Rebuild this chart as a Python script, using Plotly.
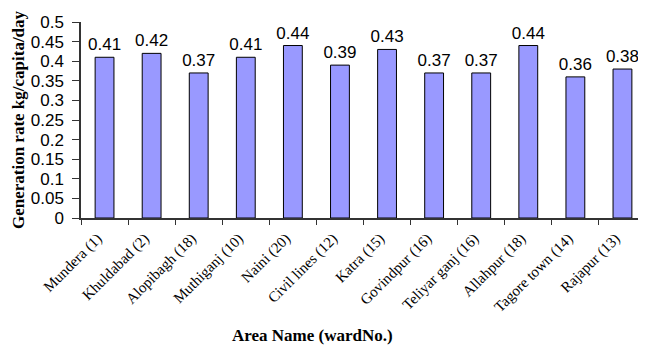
import plotly.graph_objects as go

areas = ["Mundera (1)", "Khuldabad (2)", "Alopibagh (18)", "Muthiganj (10)", "Naini (20)",
         "Civil lines (12)", "Katra (15)", "Govindpur (16)", "Teliyar ganj (16)",
         "Allahpur (18)", "Tagore town (14)", "Rajapur (13)"]
rates = [0.41, 0.42, 0.37, 0.41, 0.44, 0.39, 0.43, 0.37, 0.37, 0.44, 0.36, 0.38]
y_ticks = [0, 0.05, 0.1, 0.15, 0.2, 0.25, 0.3, 0.35, 0.4, 0.45, 0.5]
y_tick_text = ["0", "0.05", "0.1", "0.15", "0.2", "0.25", "0.3", "0.35", "0.4", "0.45", "0.5"]

fig = go.Figure(go.Bar(
    x=areas, y=rates,
    marker=dict(color="#9999FF", line=dict(color="#000000", width=1)),
    width=0.4,
    text=[f"{v:.2f}" for v in rates],
    textposition="outside",
    constraintext="none",
    cliponaxis=False,
    textfont=dict(family="Liberation Sans, Arial", size=17, color="#000"),
))

# page body has an 8px default margin; size the figure to fit the window
fig.update_layout(
    width=638, height=337,
    margin=dict(l=73, r=0, t=14, b=127),
    paper_bgcolor="white", plot_bgcolor="white",
    showlegend=False,
    xaxis=dict(
        type="category",
        automargin=False,
        tickson="boundaries",
        ticks="outside", ticklen=5, tickwidth=1.2, tickcolor="#333",
        showline=True, linecolor="#333", linewidth=1.5,
        tickangle=-45,
        ticklabelstandoff=4,
        ticklabelshift=-7,
        tickfont=dict(family="Liberation Serif, Times New Roman", size=15, color="#000"),
        showgrid=False,
    ),
    yaxis=dict(
        range=[0, 0.5],
        automargin=False,
        tickvals=y_ticks, ticktext=y_tick_text,
        ticks="outside", ticklen=7, tickwidth=1.2, tickcolor="#333",
        ticklabelstandoff=5,
        showline=True, linecolor="#333", linewidth=1.5,
        tickfont=dict(family="Liberation Sans, Arial", size=17, color="#000"),
        showgrid=False, zeroline=False,
        title=dict(text="<b>Generation rate kg/capita/day</b>",
                   font=dict(family="Liberation Serif, Times New Roman", size=17, color="#000"),
                   standoff=2),
    ),
    annotations=[dict(
        text="<b>Area Name (wardNo.)</b>",
        xref="paper", yref="paper", x=0.41, y=-0.597,
        xanchor="center", yanchor="middle", showarrow=False,
        font=dict(family="Liberation Serif, Times New Roman", size=17, color="#000"),
    )],
)

fig.write_html("out.html")
